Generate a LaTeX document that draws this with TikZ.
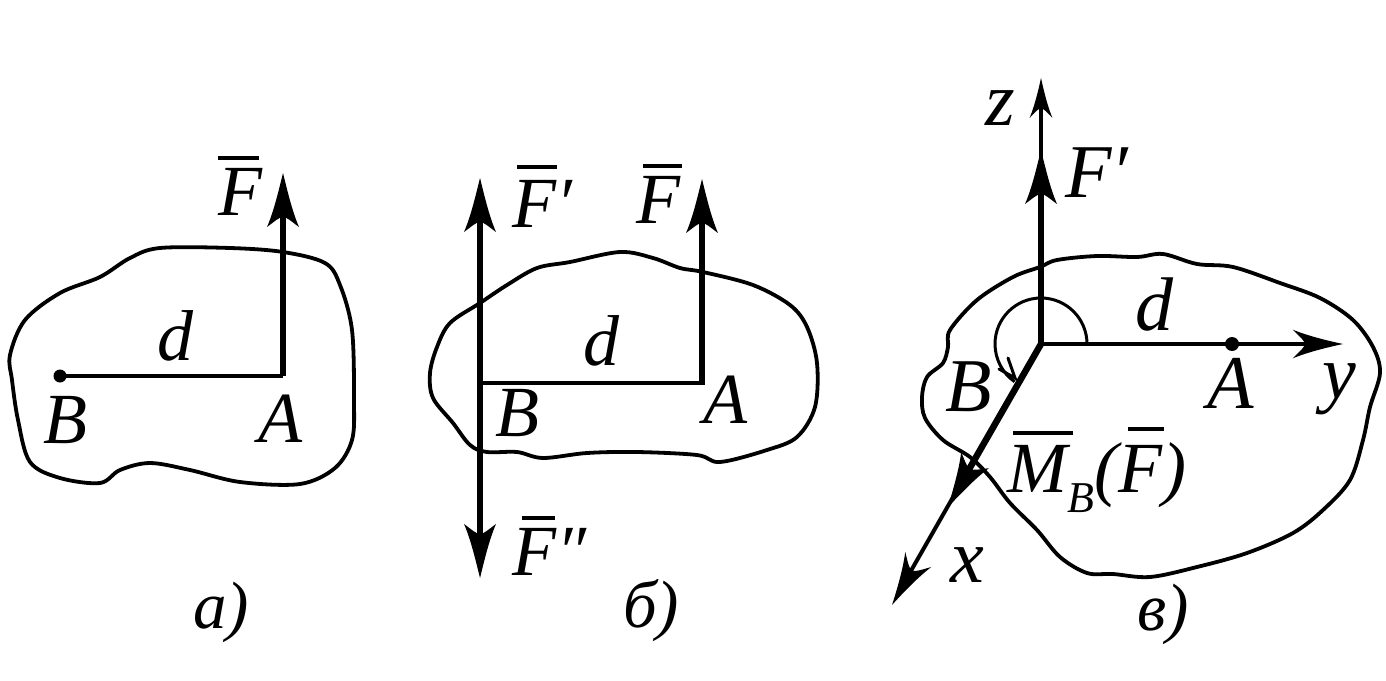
\documentclass[tikz,border=0pt]{standalone}
\usepackage{fontspec}
\setmainfont{Liberation Serif}
\tikzset{
  lab/.style={inner sep=0pt,anchor=base west,font=\fontsize{72}{72}\selectfont\itshape},
  labc/.style={lab,font=\fontsize{76}{76}\selectfont\itshape},
  capt/.style={lab,font=\fontsize{67}{67}\selectfont\itshape},
  body/.style={line width=3.8pt,line join=round},
  force/.style={line width=5.5pt},
  thinf/.style={line width=3.8pt},
  ovbar/.style={line width=3.6pt},
  dotp/.style={circle,fill=black,inner sep=0pt,minimum size=#1},
  head/.pic={\fill[black] (0,0) .. controls (-16,-4) and (-38,-9) .. (-54,-16) .. controls (-49,-9) and (-44,-4) .. (-44,0) .. controls (-44,4) and (-49,9) .. (-54,16) .. controls (-38,9) and (-16,4) .. (0,0) -- cycle;},
  headsmall/.pic={\fill[black] (0,0) .. controls (-14,-3) and (-30,-7) .. (-42,-12) .. controls (-36,-6) and (-32,-3) .. (-32,0) .. controls (-32,3) and (-36,6) .. (-42,12) .. controls (-30,7) and (-14,3) .. (0,0) -- cycle;}
}
\begin{document}
\begin{tikzpicture}[x=1pt,y=-1pt]
\useasboundingbox (0,0) rectangle (1386,680);
% panel a
\draw[body] plot[smooth cycle,tension=0.55] coordinates {(130,258)(160,248)(230,248)(283,252)(325,263)(340,285)(352,330)(354,400)(352,440)(335,468)(300,484)(240,482)(190,470)(150,463)(120,470)(100,483)(60,478)(30,462)(18,420)(12,380)(10,355)(25,320)(60,293)(100,277)};
\node[dotp=13pt] (aB) at (60,376) {};
\coordinate (aA) at (283,376);
\coordinate (aT) at (283,190);
\draw[line width=4.5pt] (aB.center) -- (aA);
\draw[force] (aA) -- (aT);
\path (283,173) pic[rotate=90] {head};
\node[lab] (aFl) at (218,215) {F};
\draw[ovbar] (218,158) -- (259,158);
\node[lab] (adl) at (157,360) {d};
\node[lab] (aBl) at (43,443) {B};
\node[lab] (aAl) at (258,442) {A};
\node[capt] (acap) at (193,628) {а)};
% panel b
\draw[body] plot[smooth cycle,tension=0.55] coordinates {(480,303)(507,285)(537,268)(570,262)(620,252)(653,258)(680,268)(703,272)(753,285)(790,305)(807,327)(817,363)(815,407)(797,437)(767,450)(720,462)(697,455)(637,452)(587,453)(543,458)(517,452)(487,452)(470,445)(453,423)(433,398)(430,373)(437,347)(450,323)};
\coordinate (bB) at (480,383);
\coordinate (bA) at (705,383);
\coordinate (bAv) at (702,385);
\coordinate (bT1) at (480,195);
\coordinate (bT2) at (480,560);
\coordinate (bT3) at (702,195);
\draw[force] (bT1) -- (bT2);
\draw[line width=4.5pt] (bB) -- (bA);
\draw[force] (bAv) -- (bT3);
\path (480,178) pic[rotate=90] {head};
\path (480,578) pic[rotate=-90] {head};
\path (702,179) pic[rotate=90] {head};
\node[lab] (bF1) at (512,227) {F′};
\draw[ovbar] (517,167) -- (557,167);
\node[lab] (bF2) at (636,223) {F};
\draw[ovbar] (643,166) -- (682,166);
\node[lab] (bF3) at (512,575) {F″};
\draw[ovbar] (522,518) -- (555,518);
\node[lab] (bdl) at (583,365) {d};
\node[lab] (bBl) at (495,436) {B};
\node[lab] (bAl) at (703,423) {A};
\node[capt] (bcap) at (623,627) {б)};
% panel c
\draw[body] plot[smooth cycle,tension=0.55] coordinates {(950,330)(977,300)(1013,277)(1040,267)(1057,260)(1097,256)(1137,257)(1163,254)(1197,264)(1233,267)(1280,283)(1320,298)(1353,320)(1373,347)(1380,373)(1370,407)(1363,440)(1350,480)(1323,510)(1293,533)(1247,553)(1197,567)(1150,577)(1113,574)(1087,573)(1060,557)(1037,530)(1010,503)(990,477)(970,457)(943,440)(925,418)(922,397)(927,377)(943,363)(948,347)};
\coordinate (cO) at (1041,344);
\coordinate (czm) at (1041,190);
\coordinate (czt) at (1041,100);
\coordinate (cyt) at (1325,344);
\coordinate (cxm) at (960,485);
\coordinate (cxt) at (900,590);
\draw[force] (cO) -- (czm);
\draw[thinf] (czm) -- (czt);
\path (1041,78) pic[rotate=90,scale=0.95] {headsmall};
\path (1041,150) pic[rotate=90] {head};
\draw[line width=3.6pt] (cO) -- (cyt);
\path (1343,344) pic[rotate=0,scale=1.2] {headsmall};
\node[dotp=14pt] (cA) at (1232,344) {};
\draw[line width=6.5pt] (cO) -- (cxm);
\draw[line width=4pt] (cxm) -- (cxt);
\path (948,507) pic[rotate=240] {head};
\path (892,605) pic[rotate=240,scale=1.25] {headsmall};
\draw[line width=3pt] (1087,344) arc[start angle=0,end angle=235,radius=46pt];
\draw[line width=3pt,line cap=round] (1008,358) -- (1015,378) -- (999,369);
\node[labc] (cz) at (985,125) {z};
\node[labc] (cF) at (1065,197) {F′};
\node[labc] (cd) at (1135,330) {d};
\node[labc] (cBl) at (945,411) {B};
\node[labc] (cAl) at (1207,408) {A};
\node[labc] (cy) at (1322,398) {y};
\node[labc] (cx) at (950,582) {x};
\node[capt] (ccap) at (1137,630) {в)};
\node[lab] (cM) at (1007,492) {M\raisebox{-20pt}{\fontsize{44}{44}\selectfont B}(F)};
\draw[ovbar] (1013,433) -- (1073,433);
\draw[ovbar] (1128,429) -- (1164,429);
\end{tikzpicture}
\end{document}
